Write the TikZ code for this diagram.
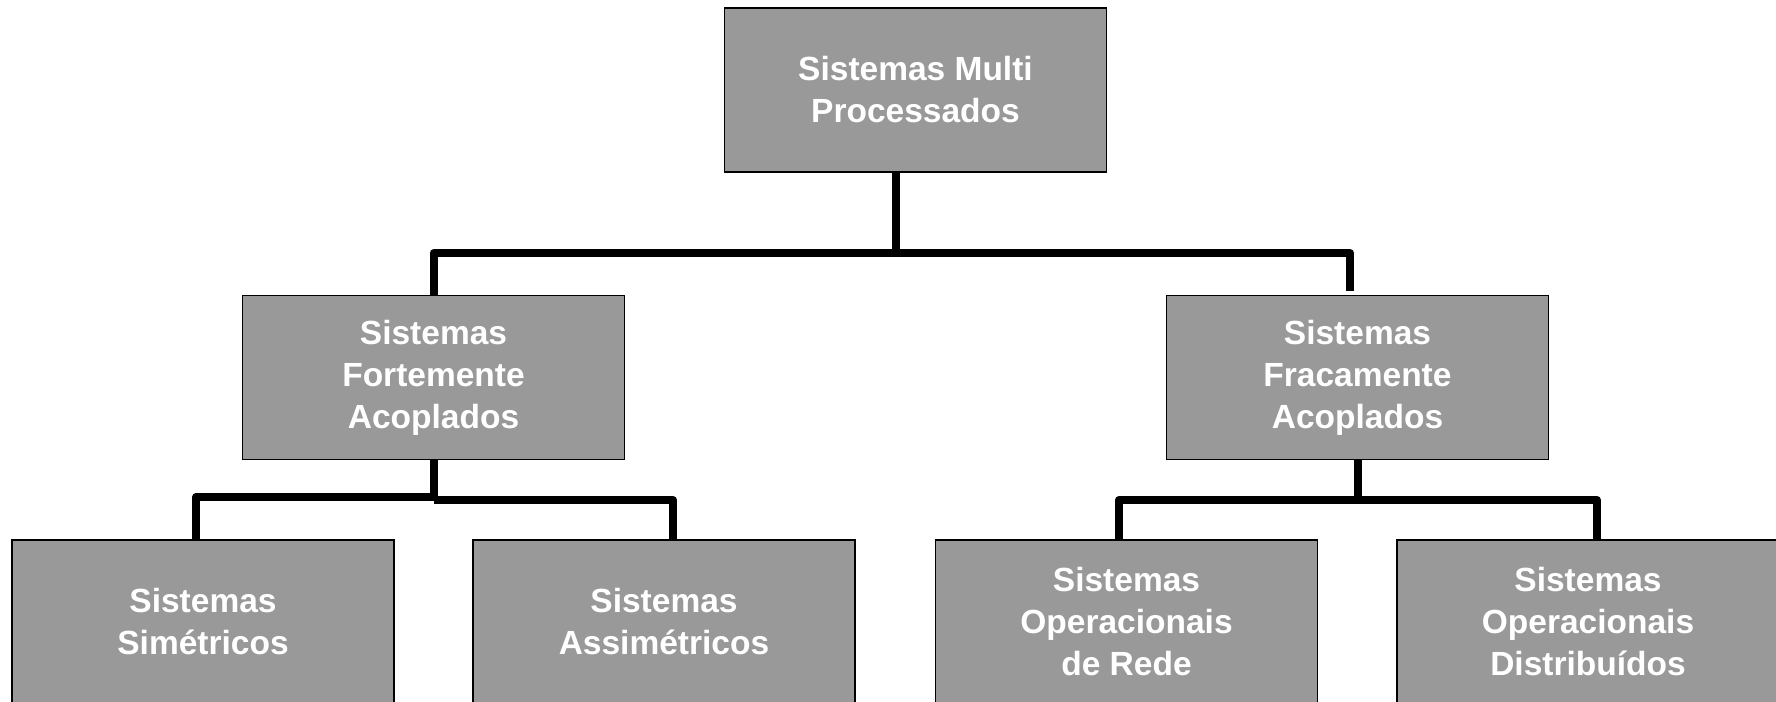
\documentclass[tikz,border=0pt]{standalone}
\usepackage{xcolor}
\usepackage{fontspec}
\setmainfont{Liberation Sans}
\usepackage{tikz}

\begin{document}
\begin{tikzpicture}[x=1pt,y=1pt,
  sysbox/.style={draw=drawColor,fill=fillColor,line width=1.5pt,rectangle,
    minimum width=382pt,minimum height=164pt,inner sep=0pt,align=center,
    text=white,font=\fontsize{33.5}{42}\selectfont\bfseries},
  link/.style={draw=drawColor,line width=8pt,line join=round}]
\definecolor{fillColor}{RGB}{153,153,153}
\definecolor{drawColor}{RGB}{0,0,0}
\path[use as bounding box,fill=white] (0,0) rectangle (1776,701);
\clip (0,0) rectangle (1776,701);

% top level
\node[sysbox] (multi) at ( 915.5,611) {Sistemas Multi\\Processados};

% second level
\node[sysbox] (forte) at ( 433.5,323.5) {Sistemas\\Fortemente\\Acoplados};
\node[sysbox] (fraco) at (1357.5,323.5) {Sistemas\\Fracamente\\Acoplados};

% third level
\node[sysbox] (sim)   at ( 203.0, 79) {Sistemas\\Simétricos};
\node[sysbox] (assim) at ( 664.0, 79) {Sistemas\\Assimétricos};
\node[sysbox] (rede)  at (1126.5, 79) {Sistemas\\Operacionais\\de Rede};
\node[sysbox] (dist)  at (1588.0, 79) {Sistemas\\Operacionais\\Distribuídos};

\coordinate (multibar) at ( 896.0,448);
\coordinate (fortebar) at ( 433.5,204);
\coordinate (fracobar) at (1357.5,201);

\path[link] (multi.south -| multibar) -- (multibar);
\path[link] (forte.north) |- (multibar) -| ([xshift=-7.5pt,yshift=4pt]fraco.north);

\path[link] (forte.south) -- (fortebar);
\path[link] ([xshift=-7pt]sim.north) |- (fortebar);
\path[link] ([xshift=9pt]assim.north) |- ([yshift=-3pt]fortebar);

\path[link] (fraco.south) -- (fracobar);
\path[link] ([xshift=-7.5pt]rede.north) |- (fracobar) -| ([xshift=9pt]dist.north);
\end{tikzpicture}
\end{document}
